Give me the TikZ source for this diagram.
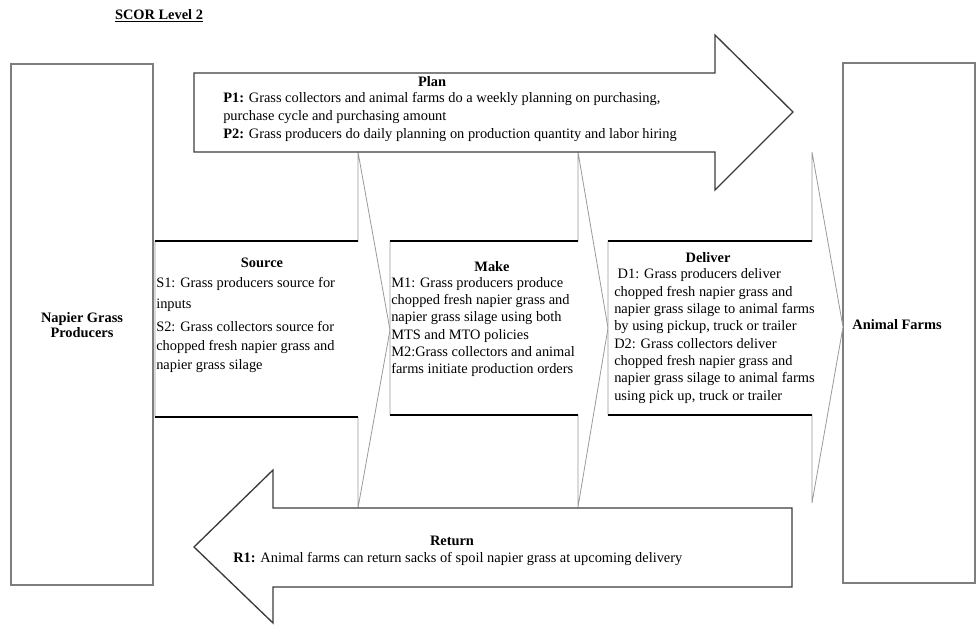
\documentclass[tikz,border=0pt]{standalone}
\usepackage{fontspec}
\setmainfont{Liberation Serif}
\definecolor{framegray}{HTML}{7E7E7E}
\definecolor{arrowgray}{HTML}{3C3C3C}
\definecolor{sidegray}{HTML}{9A9A9A}
\definecolor{headgray}{HTML}{6E6E6E}
\tikzset{
  bodyfont/.style={font=\fontsize{10.8}{13}\selectfont},
  % multi-line blocks are placed by the baseline of their last line
  txt/.style={inner sep=0pt, anchor=base west, align=left, bodyfont},
  ttl/.style={inner sep=0pt, anchor=base, font=\bfseries\fontsize{10.8}{13}\selectfont},
  sidebox/.style={draw=framegray, line width=1.1pt, fill=white},
  bigarrow/.style={draw=arrowgray, line width=1pt, fill=white, line join=miter},
  callout/.style={draw=sidegray, line width=0.6pt, fill=white},
  rule/.style={draw=black, line width=1.8pt},
}
\begin{document}
\begin{tikzpicture}[x=0.75pt, y=-0.75pt]
\useasboundingbox (0,0) rectangle (976,625);

% heading
\node[ttl] (title) at (159,19) {\underline{SCOR Level 2}};

% end boxes
\draw[sidebox] (11,64) rectangle (153,585);
\draw[sidebox] (843,63) rectangle (975,583);
\node[ttl, align=center, font=\bfseries\fontsize{10.8}{11.6}\selectfont] (producers) at (82,337.5) {Napier Grass\\Producers};
\node[ttl] (farms) at (897,329) {Animal Farms};

% Source callout
\draw[callout] (155,241) -- (358,241) -- (358,152) -- (390,330) -- (358,508) -- (358,417) -- (155,417) -- cycle;
\draw[rule] (155,241) -- (358,241);
\draw[rule] (155,417) -- (358,417);
\node[ttl] (srcT) at (262,267) {Source};
\node[txt, font=\fontsize{10.8}{15.75}\selectfont] (srcA) at (156,308) {S1: Grass producers source for\\inputs};
\node[txt, font=\fontsize{10.8}{14.25}\selectfont] (srcB) at (156,369) {S2: Grass collectors source for\\chopped fresh napier grass and\\napier grass silage};

% Make callout
\draw[callout] (390,241) -- (578,241) -- (578,152) -- (608,328) -- (578,507) -- (578,415) -- (390,415) -- cycle;
\draw[rule] (390,241) -- (578,241);
\draw[rule] (390,415) -- (578,415);
\node[ttl] (makeT) at (492,271) {Make};
\node[txt] (makeB) at (391,373.7) {M1: Grass producers produce\\chopped fresh napier grass and\\napier grass silage using both\\MTS and MTO policies\\M2:Grass collectors and animal\\farms initiate production orders};

% Deliver callout
\draw[callout] (608,241) -- (812,241) -- (812,152) -- (843,327) -- (812,503) -- (812,415) -- (608,415) -- cycle;
\draw[rule] (608,241) -- (812,241);
\draw[rule] (608,415) -- (812,415);
\node[ttl] (delT) at (708,262) {Deliver};
\node[txt] (delB) at (614,400.3) {\hspace*{2.6pt}D1: Grass producers deliver\\chopped fresh napier grass and\\napier grass silage to animal farms\\by using pickup, truck or trailer\\D2: Grass collectors deliver\\chopped fresh napier grass and\\napier grass silage to animal farms\\using pick up, truck or trailer};

% Plan arrow
\draw[bigarrow] (194,73) -- (715,73) -- (715,35) -- (793,112) -- (715,190) -- (715,152) -- (194,152) -- cycle;
\node[ttl] (planT) at (432,86) {Plan};
\node[txt, font=\fontsize{10.8}{13.5}\selectfont] (planB) at (223,138) {\textbf{P1:} Grass collectors and animal farms do a weekly planning on purchasing,\\purchase cycle and purchasing amount\\\textbf{P2:} Grass producers do daily planning on production quantity and labor hiring};

% Return arrow
\draw[bigarrow] (792,508) -- (273,508) -- (273,470) -- (194,547) -- (273,623) -- (273,587) -- (792,587) -- cycle;
\node[ttl] (retT) at (452,545) {Return};
\node[txt] (retB) at (233,562) {\textbf{R1:} Animal farms can return sacks of spoil napier grass at upcoming delivery};
\end{tikzpicture}
\end{document}
